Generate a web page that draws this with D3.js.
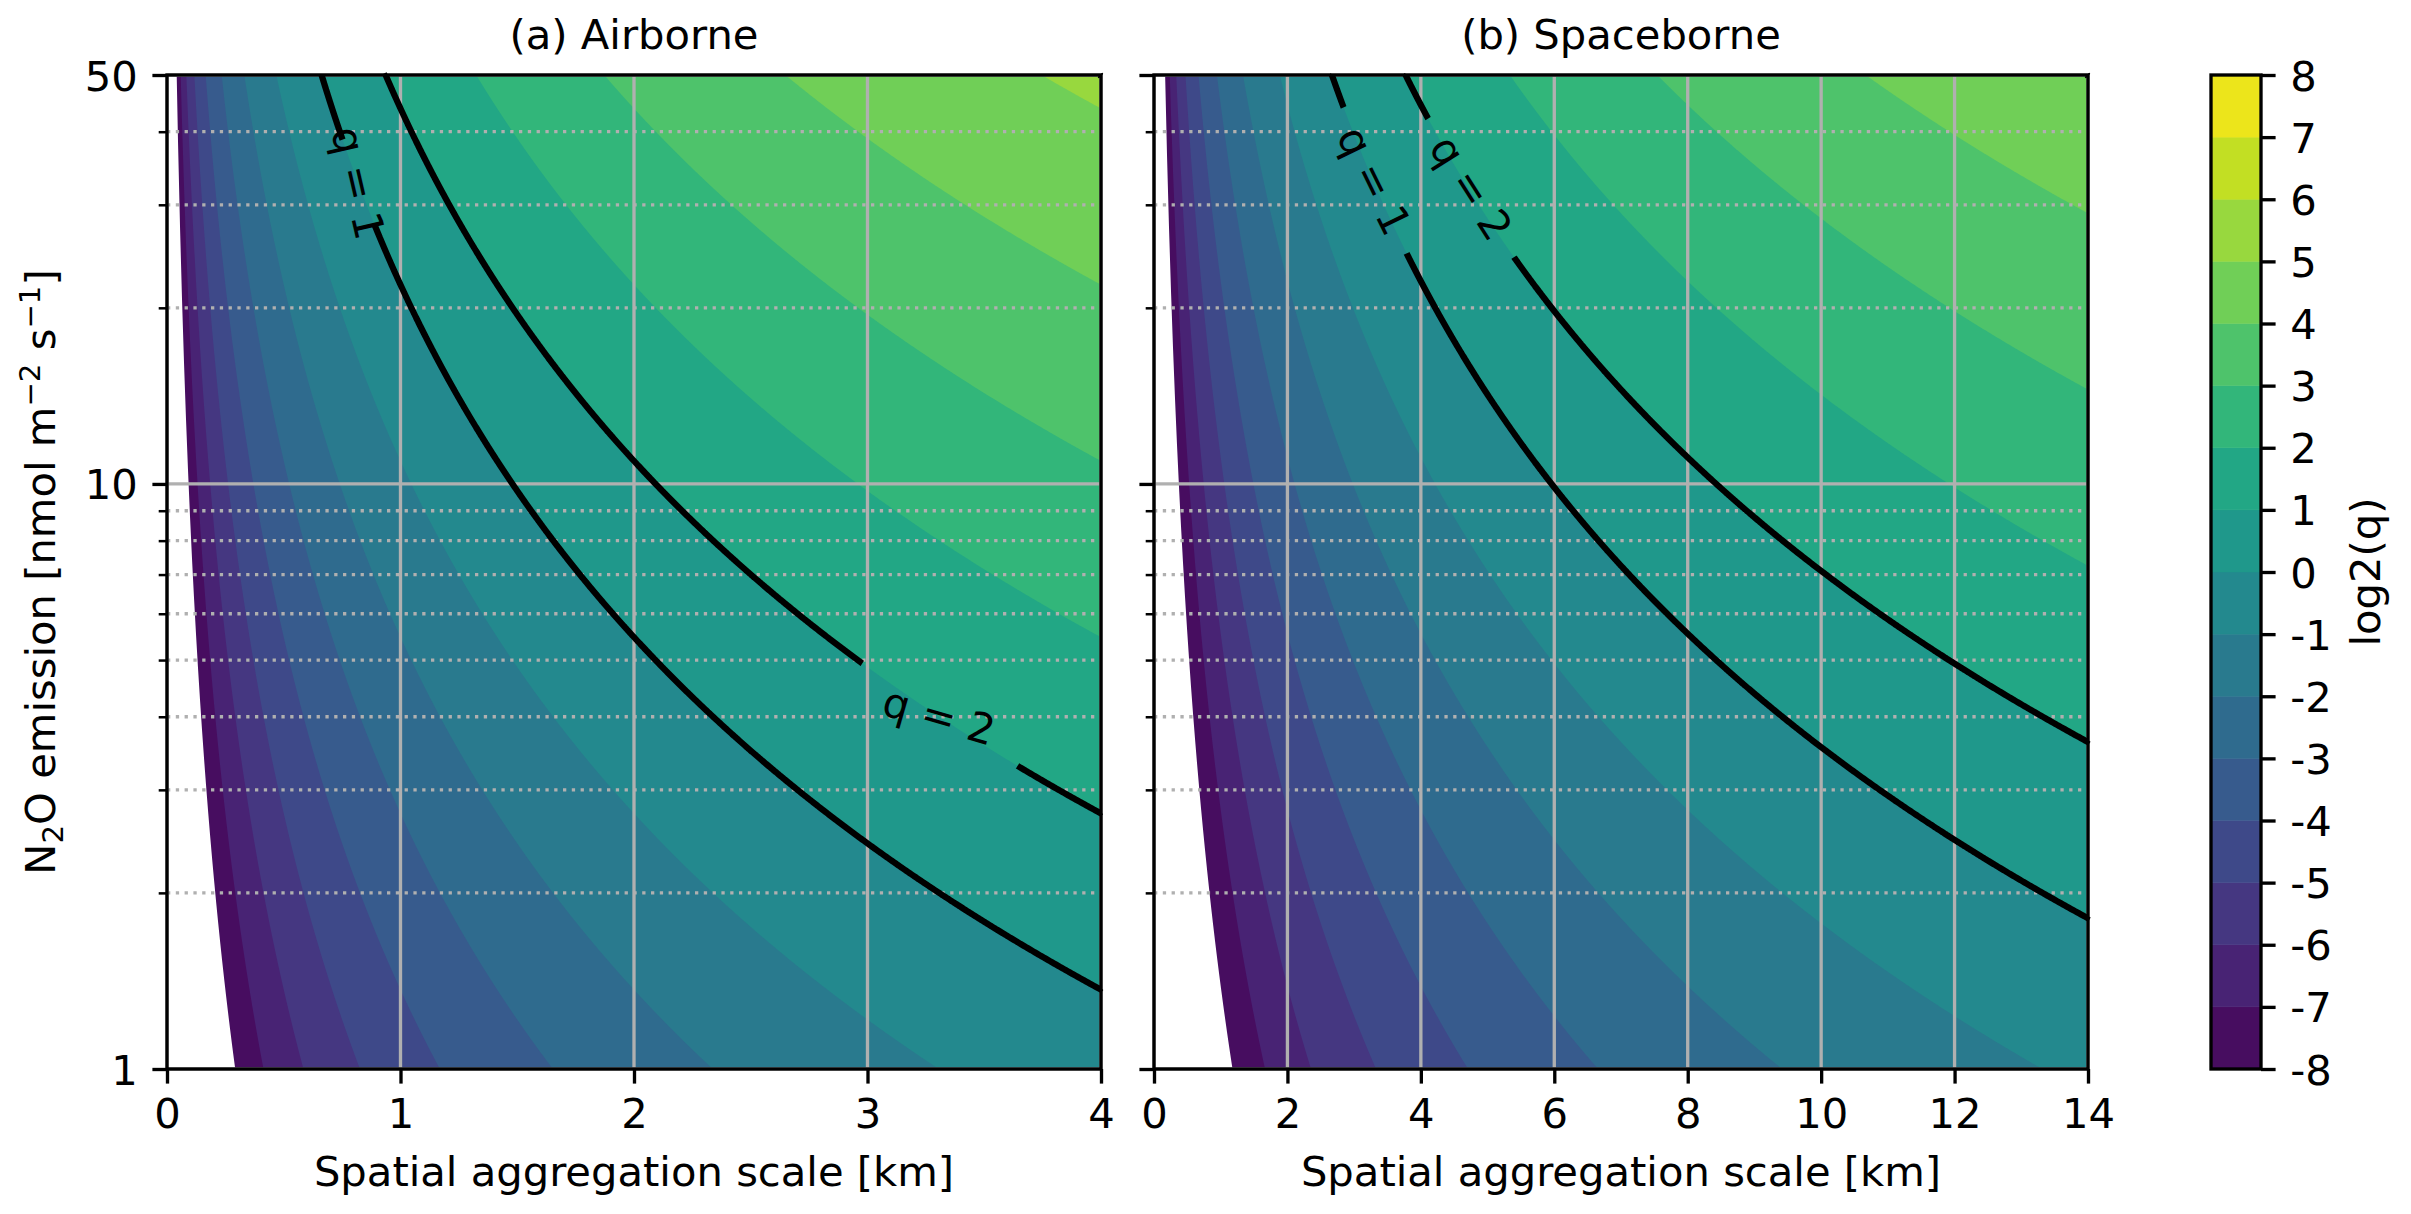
<!DOCTYPE html>
<html>
<head>
<meta charset="utf-8">
<script src="https://cdn.jsdelivr.net/npm/d3@7"></script>
<style>
  body { margin: 0; background: #fff; }
  svg text { font-family: "DejaVu Sans", sans-serif; fill: #000; }
</style>
</head>
<body>
<div id="chart"></div>
<script>
// ---- data ----
const levels = [-8, -7, -6, -5, -4, -3, -2, -1, 0, 1, 2, 3, 4, 5, 6, 7, 8];
const lineLevels = [0, 1];            // log2(q) for q = 1 and q = 2
const yTicks = [1, 10, 50];
const yMinorTicks = [2, 3, 4, 5, 6, 7, 8, 9, 20, 30, 40];
const gridE = [1, 50];                // emission rows of the value grids

const airborneXTicks = [0, 1, 2, 3, 4];
const airborneL = [0.03125, 0.0625, 0.125, 0.25, 0.5, 1, 2, 4];
const airborneLog2q = [
  [-14.45, -12.45, -10.45, -8.45, -6.45, -4.45, -2.45, -0.45],
  [-8.81, -6.81, -4.81, -2.81, -0.81, 1.19, 3.19, 5.19]
];
const airborneLabels = [
  { text: 'q = 1', L: 0.818, E: 32.7, angle: 77, gapAngle: 70, gap: 92 },
  { text: 'q = 2', L: 3.306, E: 4.01, angle: 16, gapAngle: 33, gap: 186 }
];

const spaceborneXTicks = [0, 2, 4, 6, 8, 10, 12, 14];
const spaceborneL = [0.125, 0.25, 0.5, 1, 2, 4, 8, 16];
const spaceborneLog2q = [
  [-14.47, -12.47, -10.47, -8.47, -6.47, -4.47, -2.47, -0.47],
  [-8.83, -6.83, -4.83, -2.83, -0.83, 1.17, 3.17, 5.17]
];
const spaceborneLabels = [
  { text: 'q = 1', L: 3.298, E: 32.96, angle: 64, gapAngle: 66, gap: 159 },
  { text: 'q = 2', L: 4.752, E: 32.06, angle: 57.5, gapAngle: 58, gap: 163 }
];

// ---- layout ----
const FS = 41.7;       // 10pt at 300 dpi
const LW = 3.33;       // 0.8pt
const TICK = 14.6;
const GRID = '#b0b0b0';

const panels = [
  { id: 'a', title: '(a) Airborne', left: 167, xDomain: [0, 4], xTicks: airborneXTicks,
    nodesL: airborneL, log2q: airborneLog2q, labels: airborneLabels, yLabels: true },
  { id: 'b', title: '(b) Spaceborne', left: 1154, xDomain: [0, 14], xTicks: spaceborneXTicks,
    nodesL: spaceborneL, log2q: spaceborneLog2q, labels: spaceborneLabels, yLabels: false }
];
const TOP = 75, PW = 934, PH = 994;

const svg = d3.select('#chart').append('svg')
  .attr('width', 2411)
  .attr('height', 1214);
const defs = svg.append('defs');

const bandColor = v => d3.interpolateViridis((v + 0.5 - levels[0]) / (levels[levels.length - 1] - levels[0]));

// value of log2(q) at (L, E): linear in log2 L and log2 E between the grid nodes
function fieldAt(L, E, nodesL, rows) {
  const u = Math.log2(L);
  const us = nodesL.map(Math.log2);
  let k = 0;
  while (k < us.length - 2 && u > us[k + 1]) k++;
  const tu = (u - us[k]) / (us[k + 1] - us[k]);
  const row = r => r[k] + (r[k + 1] - r[k]) * tu;
  const v0 = Math.log2(gridE[0]), v1 = Math.log2(gridE[1]);
  const tv = (Math.log2(E) - v0) / (v1 - v0);
  return Math.max(-40, row(rows[0]) + (row(rows[1]) - row(rows[0])) * tv);
}

// split contour rings into open lines, dropping the parts along the frame
function ringsToLines(coords, nx, ny) {
  const out = [];
  const onEdge = (a, b) => (a[0] === 0 && b[0] === 0) || (a[0] === nx && b[0] === nx) ||
    (a[1] === 0 && b[1] === 0) || (a[1] === ny && b[1] === ny);
  coords.forEach(poly => poly.forEach(ring => {
    const n = ring.length - 1;
    let start = 0;
    for (let k = 0; k < n; k++) if (onEdge(ring[k], ring[k + 1])) { start = k + 1; break; }
    let cur = [];
    for (let m = 0; m < n; m++) {
      const a = ring[(start + m) % n], b = ring[(start + m + 1) % n];
      if (onEdge(a, b)) {
        if (cur.length > 1) out.push(cur);
        cur = [];
      } else {
        if (!cur.length) cur.push(a);
        cur.push(b);
      }
    }
    if (cur.length > 1) out.push(cur);
  }));
  return out;
}

function drawPanel(p) {
  const x = d3.scaleLinear().domain(p.xDomain).range([0, PW]);
  const y = d3.scaleLog().domain([1, 50]).range([PH, 0]);
  const g = svg.append('g').attr('transform', `translate(${p.left},${TOP})`);

  // sample the field on a pixel grid
  const step = 2;
  const nx = Math.round(PW / step), ny = Math.round(PH / step);
  const values = new Float64Array(nx * ny);
  for (let j = 0; j < ny; j++) {
    const E = y.invert((j + 0.5) * step);
    for (let i = 0; i < nx; i++) {
      values[j * nx + i] = fieldAt(x.invert((i + 0.5) * step), E, p.nodesL, p.log2q);
    }
  }
  const contours = d3.contours().size([nx, ny]);
  const geo = d3.geoPath(d3.geoIdentity().scale(step));

  defs.append('clipPath').attr('id', `clip-${p.id}`)
    .append('rect').attr('width', PW).attr('height', PH);

  // filled bands
  g.append('g')
    .attr('clip-path', `url(#clip-${p.id})`)
    .selectAll('path')
    .data(contours.thresholds(levels.slice(0, -1))(values))
    .join('path')
    .attr('d', geo)
    .attr('fill', d => bandColor(d.value));

  // grid
  const grid = g.append('g').attr('fill', 'none');
  grid.selectAll('.gx').data(p.xTicks).join('line')
    .attr('x1', d => x(d)).attr('x2', d => x(d)).attr('y1', 0).attr('y2', PH)
    .attr('stroke', GRID).attr('stroke-width', LW);
  grid.selectAll('.gy').data(yTicks).join('line')
    .attr('x1', 0).attr('x2', PW).attr('y1', d => y(d)).attr('y2', d => y(d))
    .attr('stroke', GRID).attr('stroke-width', LW);
  grid.selectAll('.gm').data(yMinorTicks).join('line')
    .attr('x1', 0).attr('x2', PW).attr('y1', d => y(d)).attr('y2', d => y(d))
    .attr('stroke', GRID).attr('stroke-width', LW).attr('stroke-dasharray', '3.3 5.5');

  // gaps for the inline labels
  const mask = defs.append('mask').attr('id', `gap-${p.id}`)
    .attr('maskUnits', 'userSpaceOnUse')
    .attr('x', -20).attr('y', -20).attr('width', PW + 40).attr('height', PH + 40);
  mask.append('rect').attr('x', -20).attr('y', -20).attr('width', PW + 40).attr('height', PH + 40).attr('fill', '#fff');
  mask.selectAll('.cut').data(p.labels).join('rect')
    .attr('x', d => -d.gap / 2).attr('y', -16).attr('width', d => d.gap).attr('height', 32)
    .attr('fill', '#000')
    .attr('transform', d => `translate(${x(d.L)},${y(d.E)}) rotate(${d.gapAngle})`);

  // q = 1 and q = 2 lines
  const line = d3.line().x(d => d[0] * step).y(d => d[1] * step);
  const lineG = g.append('g').attr('mask', `url(#gap-${p.id})`);
  contours.thresholds(lineLevels)(values).forEach(mp => {
    lineG.selectAll(null)
      .data(ringsToLines(mp.coordinates, nx, ny))
      .join('path')
      .attr('d', line)
      .attr('fill', 'none')
      .attr('stroke', '#000')
      .attr('stroke-width', 6.25);
  });

  g.selectAll('.clabel').data(p.labels).join('text')
    .attr('transform', d => `translate(${x(d.L)},${y(d.E)}) rotate(${d.angle})`)
    .attr('text-anchor', 'middle')
    .attr('dominant-baseline', 'central')
    .attr('font-size', FS)
    .text(d => d.text);

  // frame
  g.append('rect').attr('width', PW).attr('height', PH)
    .attr('fill', 'none').attr('stroke', '#000').attr('stroke-width', LW);

  // axes
  const xAxis = g.append('g').attr('transform', `translate(0,${PH})`)
    .call(d3.axisBottom(x).tickValues(p.xTicks).tickFormat(d3.format('d')).tickSize(TICK).tickPadding(TICK));
  const yAxis = g.append('g')
    .call(d3.axisLeft(y).tickValues(yTicks).tickFormat(p.yLabels ? d3.format('d') : () => '')
      .tickSize(TICK).tickPadding(TICK));
  const yMinor = g.append('g')
    .call(d3.axisLeft(y).tickValues(yMinorTicks).tickFormat(() => '').tickSize(8.3));
  [xAxis, yAxis, yMinor].forEach(a => {
    a.select('.domain').remove();
    a.selectAll('text').attr('font-size', FS).attr('font-family', '"DejaVu Sans", sans-serif').attr('fill', '#000');
    a.selectAll('line').attr('stroke', '#000').attr('stroke-width', LW);
  });
  yAxis.selectAll('text').attr('dy', '0.36em');
  yMinor.selectAll('line').attr('stroke-width', 2.5);

  // title and x label
  svg.append('text').attr('x', p.left + PW / 2).attr('y', 49)
    .attr('text-anchor', 'middle').attr('font-size', FS).text(p.title);
  svg.append('text').attr('x', p.left + PW / 2).attr('y', 1186)
    .attr('text-anchor', 'middle').attr('font-size', FS).text('Spatial aggregation scale [km]');
}

panels.forEach(drawPanel);

// y label with sub/superscripts
const yl = svg.append('text')
  .attr('transform', `translate(55,${TOP + PH / 2}) rotate(-90)`)
  .attr('text-anchor', 'middle')
  .attr('font-size', FS);
const small = FS * 0.7;
yl.append('tspan').text('N');
yl.append('tspan').attr('font-size', small).attr('dy', 8).text('2');
yl.append('tspan').attr('dy', -8).text('O emission [nmol m');
yl.append('tspan').attr('font-size', small).attr('dy', -15).text('\u22122');
yl.append('tspan').attr('dy', 15).text(' s');
yl.append('tspan').attr('font-size', small).attr('dy', -15).text('\u22121');
yl.append('tspan').attr('dy', 15).text(']');

// colorbar
const cbLeft = 2211, cbWidth = 50;
const cbScale = d3.scaleLinear().domain([levels[0], levels[levels.length - 1]]).range([PH, 0]);
const cb = svg.append('g').attr('transform', `translate(${cbLeft},${TOP})`);
cb.selectAll('rect.band')
  .data(levels.slice(0, -1))
  .join('rect')
  .attr('class', 'band')
  .attr('x', 0)
  .attr('y', d => cbScale(d + 1))
  .attr('width', cbWidth)
  .attr('height', d => cbScale(d) - cbScale(d + 1))
  .attr('fill', d => bandColor(d))
  .attr('stroke', d => bandColor(d))
  .attr('stroke-width', 0.5);
cb.append('rect').attr('width', cbWidth).attr('height', PH)
  .attr('fill', 'none').attr('stroke', '#000').attr('stroke-width', LW);
const cbAxis = cb.append('g').attr('transform', `translate(${cbWidth},0)`)
  .call(d3.axisRight(cbScale).tickValues(levels).tickFormat(d => String(d)).tickSize(TICK).tickPadding(TICK));
cbAxis.select('.domain').remove();
cbAxis.selectAll('line').attr('stroke', '#000').attr('stroke-width', LW);
cbAxis.selectAll('text').attr('font-size', FS).attr('font-family', '"DejaVu Sans", sans-serif')
  .attr('fill', '#000').attr('dy', '0.36em');

svg.append('text')
  .attr('transform', `translate(2380,${TOP + PH / 2}) rotate(-90)`)
  .attr('text-anchor', 'middle')
  .attr('font-size', FS)
  .text('log2(q)');
</script>
</body>
</html>
